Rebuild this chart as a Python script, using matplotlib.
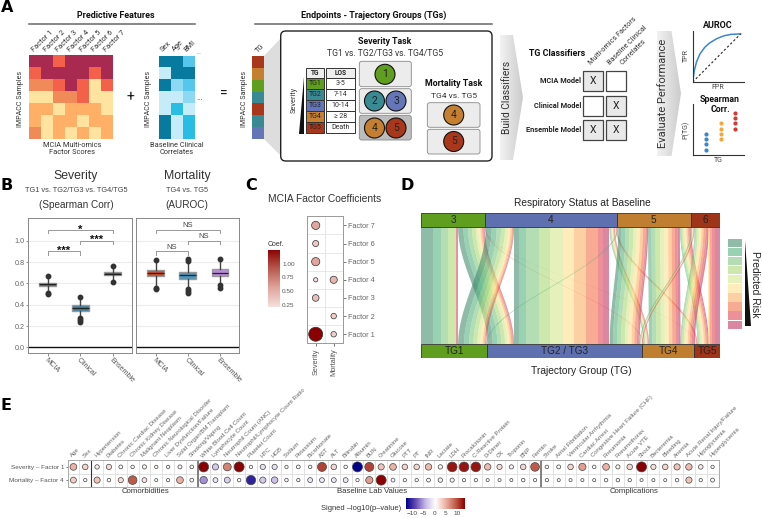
import numpy as np
import matplotlib
matplotlib.use("Agg")
import matplotlib.pyplot as plt
from matplotlib.colors import ListedColormap, LinearSegmentedColormap, to_rgba
from matplotlib.patches import Rectangle, FancyBboxPatch, Circle, Polygon

W, H = 762, 518
plt.rcParams['font.family'] = ['Liberation Sans', 'DejaVu Sans']

# ---------- panel A data
factor_labels = ["Factor 1", "Factor 2", "Factor 3", "Factor 4", "Factor 5", "Factor 6", "Factor 7"]
factor_scores = [[5, 5, 4, 5, 5, 5, 5],
                 [4, 5, 5, 5, 5, 4, 5],
                 [3, 3, 4, 5, 4, 1, 4],
                 [1, 1, 3, 3, 4, 1, 1],
                 [2, 2, 1, 2, 2, 2, 1],
                 [2, 1, 2, 2, 1, 2, 2],
                 [3, 1, 2, 1, 2, 1, 2]]
factor_colors = ["#ffe39e", "#ffb066", "#f08a58", "#f4614a", "#a82a50"]
clinical_labels = ["Sex", "Age", "BMI"]
clinical_scores = [[5, 5, 3],
                   [1, 5, 5],
                   [5, 2, 3],
                   [1, 1, 2],
                   [1, 4, 1],
                   [5, 1, 4],
                   [5, 1, 4]]
clinical_colors = ["#c6ecfa", "#8dd9f3", "#56c6ec", "#29bde4", "#08799f"]
tg_red, tg_orange, tg_green, tg_teal, tg_blue = "#a8371b", "#c48030", "#5f9e1f", "#3a8a93", "#6476b8"
tg_strip = [tg_red, tg_orange, tg_green, tg_teal, tg_red, tg_teal, tg_blue]
tg_names = ["TG1", "TG2", "TG3", "TG4", "TG5"]
tg_colors = [tg_green, tg_teal, tg_blue, tg_orange, tg_red]
los_values = ["3-5", "7-14", "10-14", "≥ 28", "Death"]
model_names = ["MCIA Model", "Clinical Model", "Ensemble Model"]
model_inputs = [[1, 0], [0, 1], [1, 1]]
roc_fpr = [0, 0.03, 0.08, 0.15, 0.25, 0.35, 0.5, 0.65, 0.8, 1.0]
roc_tpr = [0, 0.22, 0.42, 0.58, 0.72, 0.81, 0.90, 0.96, 0.99, 1.0]
rank_blue = [0.10, 0.23, 0.33, 0.43]
rank_orange = [0.33, 0.43, 0.54, 0.65]
rank_red = [0.54, 0.65, 0.76, 0.87]

# ---------- panel B data: q1, median, q3, whisker low, whisker high, outliers
model_labels = ["MCIA", "Clinical", "Ensemble"]
severity_stats = [(0.575, 0.59, 0.605, 0.52, 0.65, [0.50, 0.51, 0.665]),
                  (0.345, 0.37, 0.395, 0.30, 0.44, [0.235, 0.26, 0.275, 0.47]),
                  (0.675, 0.69, 0.705, 0.63, 0.75, [0.615, 0.76])]
mortality_stats = [(0.665, 0.695, 0.725, 0.58, 0.80, [0.55, 0.56, 0.815]),
                   (0.645, 0.675, 0.705, 0.56, 0.79, [0.51, 0.53, 0.55, 0.81, 0.83]),
                   (0.67, 0.70, 0.73, 0.59, 0.81, [0.56, 0.58, 0.825])]
severity_box_colors = ["#a0472a", "#3f7f9f", "#5a4870"]
mortality_box_colors = ["#c8502a", "#4a96b8", "#b88ad8"]
severity_sig = [(1, 2, 0.90, "***"), (2, 3, 1.00, "***"), (1, 3, 1.10, "*")]
mortality_sig = [(1, 2, 0.90, "NS"), (2, 3, 1.00, "NS"), (1, 3, 1.10, "NS")]

# ---------- panel C data
coef_severity = [1.25, np.nan, 0.40, 0.20, 0.55, 0.35, 0.55]
coef_mortality = [0.30, 0.30, np.nan, 0.45, np.nan, np.nan, np.nan]

# ---------- panel D data: risk bins per flow, low to high
resp_levels = ["3", "4", "5", "6"]
tg_levels = ["TG1", "TG2 / TG3", "TG4", "TG5"]
flows = {("3", "TG1"): [34, 25, 22, 23, 0, 0, 0, 0, 5, 0],
         ("3", "TG2 / TG3"): [16, 14, 12, 11, 8, 6, 5, 4, 2, 2],
         ("3", "TG4"): [0, 0, 0, 0, 0, 0, 0, 1, 1, 0],
         ("3", "TG5"): [0, 0, 0, 0, 0, 0, 0, 0, 1, 0],
         ("4", "TG1"): [18, 15, 13, 12, 9, 7, 5, 3, 2, 1],
         ("4", "TG2 / TG3"): [15, 23, 37, 35, 38, 34, 35, 38, 15, 17],
         ("4", "TG4"): [1, 1, 2, 2, 2, 2, 2, 2, 1, 1],
         ("4", "TG5"): [0, 0, 0, 0, 1, 1, 1, 2, 1, 1],
         ("5", "TG1"): [1, 1, 1, 0, 0, 0, 0, 0, 0, 0],
         ("5", "TG2 / TG3"): [10, 12, 12, 12, 10, 10, 8, 8, 4, 4],
         ("5", "TG4"): [2, 8, 12, 14, 12, 12, 10, 10, 8, 7],
         ("5", "TG5"): [0, 2, 3, 4, 5, 5, 5, 4, 3, 3],
         ("6", "TG2 / TG3"): [1, 1, 1, 1, 1, 1, 1, 1, 1, 1],
         ("6", "TG4"): [0, 2, 3, 5, 5, 6, 6, 6, 5, 5],
         ("6", "TG5"): [0, 0, 0, 0, 0, 2, 3, 5, 10, 15]}
risk_colors = ["#3e8a6a", "#4fb07c", "#7fc67f", "#a8d870", "#d4e68a",
               "#fee08b", "#fdae61", "#f46d43", "#e04050", "#c03060"]
resp_colors = ["#5f9e1f", "#5f70b0", "#c07f30", "#9e3518"]

# ---------- panel E data
comorbid = ["Age", "Sex", "Hypertension", "Diabetes", "Chronic Cardiac Disease", "Chronic Kidney Disease",
            "Malignant Neoplasm", "Chronic Neurological Disorder", "Liver Dysfunction/Failure",
            "Solid Organ/BM Transplant", "Smoking/Vaping"]
labs = ["White Blood Cell Count", "Lymphocyte Count", "Neutrophil Count (ANC)",
        "Neutrophil/Lymphocyte Count Ratio", "Platelet Count", "HTC", "HGB", "Sodium", "Potassium",
        "Bicarbonate", "AST", "ALT", "Bilirubin", "Albumin", "BUN", "Creatinine", "Glucose", "PTT", "PT",
        "INR", "Lactate", "LDH", "Procalcitonin", "C-Reactive Protein", "D-Dimer", "CK", "Troponin", "BNP",
        "Ferritin"]
complications = ["Stroke", "Atrial Fibrillation", "Ventricular Arrhythmia", "Cardiac Arrest",
                 "Congestive Heart Failure (CHF)", "Pneumonia", "Pneumothorax", "Acute VTE", "Shock",
                 "Bacteremia", "Bleeding", "Anemia", "Acute Renal Injury/Failure", "Hypoglycemia",
                 "Hyperglycemia"]
sev_signed = [4.5, 2.5, 1, 2, 0.5, 0.3, 0.8, 0.2, 0.2, 0.6, 0.4,
              13, -3.5, 7, 13, -0.2, -2, -2, -0.2, 0.5, 0.3, 10, 2.5, 0.3, -13, 10, 3.5, 4.5, 2.5, 2.5, 4, 1,
              12, 12, 12, 4, 2, 0.8, 2.5, 9,
              0.3, 0.6, 2.5, 5.5, 0.3, 4.5, 0.8, 2.5, 13, 2, 2.5, 3.5, 4, 1.2, 0.2]
mort_signed = [3, -0.2, 3.5, 0.3, 2, 9, 1.5, 0.1, 0.2, 4.5, 0.5,
               -6, -1.5, -3, -0.3, -11, -3.5, -4, -0.3, -0.2, -1.5, -1.5, -1.5, -1.5, -0.2, 5.5, 13, -0.5, -0.2,
               -0.2, -0.5, -1, -0.8, -0.2, -0.2, -0.1, -0.1, -0.1, -0.3, -0.2,
               -0.2, -0.1, -0.1, -0.1, -0.1, -0.3, -0.3, -0.2, -0.1, -0.1, -0.1, -0.3, 3.5, -0.2, -0.6]
e_rows = ["Severity – Factor 1", "Mortality – Factor 4"]

fig = plt.figure(figsize=(W / 100, H / 100), dpi=100)


def box(x0, y0, x1, y1):
    # axes from pixel corners, y counted from the top
    return fig.add_axes([x0 / W, 1 - y1 / H, (x1 - x0) / W, (y1 - y0) / H])


def pt(px):
    return px * 0.72


bg = fig.add_axes([0, 0, 1, 1], zorder=-1)
bg.set_xlim(0, W)
bg.set_ylim(H, 0)
bg.axis("off")
top = fig.add_axes([0, 0, 1, 1], zorder=5)
top.set_xlim(0, W)
top.set_ylim(H, 0)
top.axis("off")
top.patch.set_alpha(0)


def txt(x, y, s, size=5.5, weight="normal", color="#222222", rot=0, ha="center", va="center", font="Roboto", **kw):
    return top.text(x, y, s, fontsize=size, fontweight=weight, color=color, rotation=rot, ha=ha, va=va,
                    family=[font, "DejaVu Sans"], **kw)


def heat(rect, values, colors, labels):
    ax = box(*rect)
    ax.imshow(values, cmap=ListedColormap(colors), vmin=1, vmax=5, aspect="auto", interpolation="nearest")
    ax.xaxis.tick_top()
    ax.set_xticks(range(len(labels)), labels, rotation=45, ha="left", va="bottom", rotation_mode="anchor",
                  fontsize=5.3, color="#333333", family=["Roboto"])
    ax.set_yticks([])
    ax.tick_params(length=0, pad=1.5)
    for s in ax.spines.values():
        s.set_visible(False)
    return ax


def rbox(x0, y0, x1, y1, fc, ec="#888888", lw=0.6, r=2.5, zorder=2, ax=None):
    (ax or bg).add_patch(FancyBboxPatch((x0 + r, y0 + r), x1 - x0 - 2 * r, y1 - y0 - 2 * r,
                                        boxstyle="round,pad=%f,rounding_size=%f" % (r, r),
                                        fc=fc, ec=ec, lw=lw, zorder=zorder))


def disc(x, y, r, fc, label):
    bg.add_patch(Circle((x, y), r, fc=fc, ec="#111111", lw=0.8, zorder=4))
    txt(x, y, label, size=7.5)


def chevron(x0, xs, xt, y0, y1, label, xtext, size):
    ym = (y0 + y1) / 2
    poly = Polygon([(x0, y0), (xs, y0), (xt, ym), (xs, y1), (x0, y1)], closed=True, fc="none", ec="none")
    bg.add_patch(poly)
    g = bg.imshow(np.linspace(0, 1, 64).reshape(1, -1), cmap=LinearSegmentedColormap.from_list("g", ["#f2f2f2", "#cccccc"]),
                  extent=(x0, xt, y1, y0), aspect="auto", zorder=1)
    g.set_clip_path(poly)
    bg.set_xlim(0, W)
    bg.set_ylim(H, 0)
    txt(xtext, ym, label, size=size, rot=90, color="#333333")


# ---------- panel A
txt(1, 8, "A", size=11.5, weight="bold", ha="left", color="black", font="DejaVu Sans")
txt(116, 15, "Predictive Features", size=6.4, weight="bold", color="#111111")
bg.plot([29, 195], [24, 24], color="#666666", lw=1.1)
heat((29.3, 55, 113, 139), factor_scores, factor_colors, factor_labels)
heat((158.5, 55.5, 194, 139), clinical_scores, clinical_colors, clinical_labels)
txt(199, 52.5, "...", size=4.5, color="#555555")
for xp in [20, 149, 245]:
    txt(xp, 99, "IMPACC Samples", size=5.1, rot=90, color="#333333")
txt(130, 97, "+", size=10, color="#111111")
txt(200, 98, "...", size=6, color="#444444")
txt(224, 94, "=", size=10, color="#111111")
txt(72, 149, "MCIA Multi-omics\nFactor Scores", size=5.3, color="#333333", linespacing=1.15)
txt(177, 149, "Baseline Clinical\nCorrelates", size=5.3, color="#333333", linespacing=1.15)
txt(374, 15, "Endpoints - Trajectory Groups (TGs)", size=6.45, weight="bold", color="#111111")
bg.plot([255, 492], [24, 24], color="#666666", lw=1.1)

strip_ax = box(252, 56, 264, 139)
strip_ax.imshow(np.arange(len(tg_strip)).reshape(-1, 1), cmap=ListedColormap(tg_strip), aspect="auto",
                interpolation="nearest")
strip_ax.axis("off")
txt(260, 49, "TG", size=5.3, rot=45, color="#333333")
bg.add_patch(Polygon([(264, 56), (281, 38), (281, 156), (264, 139)], fc="#dddddd", ec="none", zorder=1))
rbox(280.7, 31, 492, 161, "white", ec="#222222", lw=1.0, r=5)
txt(385, 42, "Severity Task", size=6.3, weight="bold", color="#111111")
txt(385, 54, "TG1 vs. TG2/TG3 vs. TG4/TG5", size=6.2, color="#333333")

# table of the five groups
row_h = 11
bg.add_patch(Rectangle((305.7, 67.5), 18.3, 10.5, fc="#eeeeee", ec="#333333", lw=0.7, zorder=3))
bg.add_patch(Rectangle((326.3, 67.5), 28.4, 10.5, fc="#eeeeee", ec="#333333", lw=0.7, zorder=3))
txt(314.8, 72.8, "TG", size=4.8, weight="bold")
txt(340.5, 72.8, "LOS", size=4.8, weight="bold")
for i, (n, c, los) in enumerate(zip(tg_names, tg_colors, los_values)):
    y = 78 + i * row_h
    bg.add_patch(Rectangle((305.7, y), 18.3, row_h, fc=c, ec="#333333", lw=0.7, zorder=3))
    bg.add_patch(Rectangle((326.3, y), 28.4, row_h, fc="white", ec="#333333", lw=0.7, zorder=3))
    txt(314.8, y + row_h / 2, n, size=5)
    txt(340.5, y + row_h / 2, los, size=5, color="#333333")
txt(294, 100, "Severity", size=5.3, rot=90, color="#333333")
bg.add_patch(Polygon([(299, 133.6), (304, 133.6), (304, 77)], fc="#111111", ec="none", zorder=3))

rbox(359.3, 61.3, 411.3, 86.7, "#ececec")
rbox(359.3, 88.7, 411.3, 113.3, "#ececec")
rbox(359.3, 115.3, 411.3, 140, "#bdbdbd")
disc(385, 74.3, 10, tg_green, "1")
disc(374.5, 101, 10, tg_teal, "2")
disc(396, 101, 10, tg_blue, "3")
disc(374.5, 128, 10, tg_orange, "4")
disc(396, 128, 10, tg_red, "5")
bg.add_patch(Polygon([(411, 116), (427.5, 103), (427.5, 154), (411, 140)], fc="#cfcfcf", ec="none", zorder=1))
txt(454, 84, "Mortality Task", size=6.4, weight="bold", color="#111111")
txt(454, 96, "TG4 vs. TG5", size=6.1, color="#333333")
rbox(427.3, 102.7, 480, 127.3, "#ececec")
rbox(427.3, 129.3, 480, 154, "#ececec")
disc(453.7, 115, 10, tg_orange, "4")
disc(453.7, 141.5, 10, tg_red, "5")

chevron(500, 513, 523, 35, 160, "Build Classifiers", 507, 7.4)
chevron(657, 671.5, 681, 31, 156, "Evaluate Performance", 662.5, 8)

# classifier grid
txt(557, 53, "TG Classifiers", size=6.4, weight="bold", color="#111111")
col_x = [583, 605.7]
row_y = [71, 95.7, 120.3]
for name, ry, inputs in zip(model_names, row_y, model_inputs):
    txt(581.5, ry + 10, name, size=5.3, weight="bold", ha="right", color="#222222")
    for cx, used in zip(col_x, inputs):
        bg.add_patch(Rectangle((cx, ry), 20, 20, fc="#e9e9e9" if used else "white", ec="#444444", lw=0.9, zorder=3))
        if used:
            txt(cx + 10, ry + 10, "X", size=7.5, color="#222222")
txt(592, 66, "Multi-omics Factors", size=5.2, rot=45, ha="left", va="bottom", color="#333333", rotation_mode="anchor")
txt(611, 66, "Baseline Clinical", size=5.2, rot=45, ha="left", va="bottom", color="#333333", rotation_mode="anchor")
txt(624, 66, "Correlates", size=5.2, rot=45, ha="left", va="bottom", color="#333333", rotation_mode="anchor")

roc_ax = box(692.7, 31, 744, 82)
roc_ax.plot(roc_fpr, roc_tpr, color="#3b87c9", lw=1.1)
roc_ax.plot([0, 1], [0, 1], color="#222222", lw=0.8, ls=(0, (2, 2)))
rank_ax = box(692.7, 104, 744, 155)
rank_ax.scatter([1] * 4, rank_blue, s=9, color="#3b87c9", lw=0)
rank_ax.scatter([2] * 4, rank_orange, s=9, color="#f2a93b", lw=0)
rank_ax.scatter([3] * 4, rank_red, s=9, color="#cf3a34", lw=0)
rank_ax.set_xlim(0.08, 3.62)
rank_ax.set_ylim(0, 1.05)
roc_ax.set_xlim(0, 1.07)
roc_ax.set_ylim(0, 1.06)
for a in [roc_ax, rank_ax]:
    a.set_xticks([])
    a.set_yticks([])
    a.spines["top"].set_visible(False)
    a.spines["right"].set_visible(False)
    a.spines["left"].set_color("#333333")
    a.spines["bottom"].set_color("#333333")
    a.patch.set_alpha(0)
txt(718, 26, "AUROC", size=6.5, weight="bold", color="#111111")
txt(686, 56, "TPR", size=5, rot=90, color="#444444")
txt(718, 87.5, "FPR", size=5, color="#444444")
txt(720, 104.5, "Spearman\nCorr.", size=6.3, weight="bold", color="#111111", linespacing=1.1)
txt(686, 130, "P(TG)", size=5, rot=90, color="#444444")
txt(718, 160, "TG", size=5, color="#444444")


# ---------- panel B
def boxes(rect, stats, colors, sig, yticks):
    ax = box(*rect)
    ax.axhline(0, color="#111111", lw=1, zorder=1.5)
    for v in np.arange(0.2, 1.01, 0.2):
        ax.axhline(v, color="#ececec", lw=0.8, zorder=0)
    bxp = [dict(q1=q1, med=med, q3=q3, whislo=lo, whishi=hi, fliers=out) for q1, med, q3, lo, hi, out in stats]
    art = ax.bxp(bxp, positions=[1, 2, 3], widths=0.52, patch_artist=True, showcaps=False,
                 medianprops=dict(color="#222222", lw=0.9), whiskerprops=dict(color="#444444", lw=1.0),
                 boxprops=dict(edgecolor="#9a9a9a", lw=1.0),
                 flierprops=dict(marker="o", ms=3.2, mfc="#333333", mec="#333333"))
    for patch, c in zip(art["boxes"], colors):
        patch.set_facecolor(c)
    for a, b, y, s in sig:
        ax.plot([a, a, b, b], [y - 0.03, y, y, y - 0.03], color="#999999", lw=0.7)
        if "*" in s:
            ax.text((a + b) / 2, y + 0.005, s, ha="center", va="center", fontsize=8, fontweight="bold",
                    color="#111111", family=["Liberation Sans"])
        else:
            ax.text((a + b) / 2, y + 0.04, s, ha="center", va="center", fontsize=5.5, color="#444444")
    ax.set_xlim(0.4, 3.6)
    ax.set_ylim(-0.053, 1.21)
    ax.set_xticks([1, 2, 3], model_labels, rotation=-45, ha="left", va="top", rotation_mode="anchor",
                  fontsize=5.2, color="#555555")
    if yticks:
        ax.set_yticks([0, 0.2, 0.4, 0.6, 0.8, 1.0], ["0.0", "0.2", "0.4", "0.6", "0.8", "1.0"], fontsize=5.2,
                      color="#666666")
    else:
        ax.set_yticks([])
    ax.tick_params(length=1.8, width=0.5, color="#666666", pad=1)
    for s in ax.spines.values():
        s.set_color("#888888")
        s.set_linewidth(0.7)
    return ax


txt(1, 186, "B", size=11.5, weight="bold", ha="left", color="black", font="DejaVu Sans")
boxes((28.3, 218.3, 132.3, 353), severity_stats, severity_box_colors, severity_sig, True)
boxes((136.3, 218.3, 239.3, 353), mortality_stats, mortality_box_colors, mortality_sig, False)
for xc, a, b, c in [(76, "Severity", "TG1 vs. TG2/TG3 vs. TG4/TG5", "(Spearman Corr)"),
                    (187, "Mortality", "TG4 vs. TG5", "(AUROC)")]:
    txt(xc, 176, a, size=8.8, color="#333333", font="Liberation Sans")
    txt(xc, 191, b, size=5.3, color="#444444", font="Liberation Sans")
    txt(xc, 205, c, size=7.2, color="#333333", font="Liberation Sans")

# ---------- panel C
txt(245, 186, "C", size=11.5, weight="bold", ha="left", color="black", font="DejaVu Sans")
txt(325, 199, "MCIA Factor Coefficients", size=7.4, color="#333333", font="Liberation Sans")
coef_cmap = LinearSegmentedColormap.from_list("coef", ["#f6e0dd", "#e0a59c", "#b85a4e", "#8b0000"])
c_ax = box(306.7, 216.3, 342.7, 343.3)
rows = np.arange(1, 8)
for col, vals in enumerate([coef_severity, coef_mortality]):
    vals = np.array(vals)
    keep = ~np.isnan(vals)
    diam = 14 * (vals[keep] / 1.25) ** 0.65
    c_ax.scatter(np.full(keep.sum(), col), rows[keep], s=pt(diam) ** 2, c=vals[keep], cmap=coef_cmap, vmin=0.2,
                 vmax=1.25, edgecolors="#333333", linewidths=0.5, zorder=3)
c_ax.set_xlim(-0.5, 1.5)
c_ax.set_ylim(0.5, 7.5)
c_ax.set_xticks([0, 1], ["Severity", "Mortality"], rotation=90, fontsize=5.3, color="#555555")
c_ax.yaxis.tick_right()
c_ax.set_yticks(rows, factor_labels, fontsize=5.3, color="#666666")
c_ax.set_axisbelow(True)
c_ax.tick_params(length=2, width=0.5, color="#444444", pad=1.5)
c_ax.set_xticks([0.5], minor=True)
c_ax.set_yticks(rows[:-1] + 0.5, minor=True)
c_ax.grid(which="minor", color="#e4e4e4", lw=0.6)
c_ax.tick_params(which="minor", length=0)
for s in c_ax.spines.values():
    s.set_color("#999999")
    s.set_linewidth(0.7)
c_bar = box(268, 250, 279.3, 307)
c_bar.imshow(np.linspace(1.25, 0.208, 64).reshape(-1, 1), cmap=coef_cmap, vmin=0.2, vmax=1.25, aspect="auto",
             extent=(0, 1, 0.208, 1.25))
c_bar.set_xticks([])
c_bar.yaxis.tick_right()
c_bar.set_yticks([0.25, 0.5, 0.75, 1.0], ["0.25", "0.50", "0.75", "1.00"], fontsize=4.6, color="#555555")
c_bar.tick_params(length=0, pad=2)
for s in c_bar.spines.values():
    s.set_visible(False)
txt(268, 244, "Coef.", size=5, ha="left", color="#333333", font="Liberation Sans")

# ---------- panel D
txt(400, 186, "D", size=11.5, weight="bold", ha="left", color="black", font="DejaVu Sans")
txt(582, 203, "Respiratory Status at Baseline", size=7.3, color="#222222", font="Liberation Sans")
txt(581, 371, "Trajectory Group (TG)", size=7.4, color="#222222", font="Liberation Sans")
d_ax = box(421.3, 213.3, 720, 358)
d_ax.set_ylim(144.7, 0)
d_ax.axis("off")
bar_h = 14
total = sum(sum(v) for v in flows.values())
d_ax.set_xlim(0, total)
# stacking offsets: top bar by target order, bottom bar by source order
top_off, bot_off = {}, {}
pos = 0
top_edges = {}
for r in resp_levels:
    start = pos
    for t in tg_levels:
        if (r, t) in flows:
            top_off[(r, t)] = pos
            pos += sum(flows[(r, t)])
    top_edges[r] = (start, pos)
pos = 0
bot_edges = {}
for t in tg_levels:
    start = pos
    for r in resp_levels:
        if (r, t) in flows:
            bot_off[(r, t)] = pos
            pos += sum(flows[(r, t)])
    bot_edges[t] = (start, pos)
y_t = np.linspace(bar_h, 144.7 - bar_h, 80)
ease = np.linspace(0, 1, 80)
ease = ease * ease * (3 - 2 * ease)
for key, widths in flows.items():
    offs = np.concatenate([[0], np.cumsum(widths)])
    for k, c in enumerate(risk_colors):
        if widths[k] == 0:
            continue
        left = top_off[key] + offs[k] + (bot_off[key] - top_off[key]) * ease
        d_ax.fill_betweenx(y_t, left, left + widths[k], color=c, alpha=0.58, lw=0)
for (name, (a, b)), c in zip(top_edges.items(), resp_colors):
    d_ax.add_patch(Rectangle((a, 0), b - a, bar_h, fc=c, ec="#333333", lw=0.6))
    d_ax.text((a + b) / 2, bar_h / 2, name, ha="center", va="center", fontsize=7.2, color="#222222")
for (name, (a, b)), c in zip(bot_edges.items(), resp_colors):
    d_ax.add_patch(Rectangle((a, 144.7 - bar_h), b - a, bar_h, fc=c, ec="#333333", lw=0.6))
    d_ax.text((a + b) / 2, 144.7 - bar_h / 2, name, ha="center", va="center", fontsize=7.2, color="#222222")
leg_ax = box(727.7, 238.3, 741.7, 329.3)
leg_ax.barh(np.arange(len(risk_colors)), 1, height=0.92, color=[to_rgba(c, 0.58) for c in risk_colors])
leg_ax.set_xlim(0, 1)
leg_ax.set_ylim(len(risk_colors) - 0.5, -0.5)
leg_ax.axis("off")
bg.add_patch(Polygon([(745, 240), (745, 325.6), (751, 325.6)], fc="#111111", ec="none"))
txt(755, 284, "Predicted Risk", size=7.4, rot=-90, color="#222222", font="Liberation Sans")

# ---------- panel E
txt(1, 406, "E", size=11.5, weight="bold", ha="left", color="black", font="DejaVu Sans")
signed_cmap = LinearSegmentedColormap.from_list("signed", ["#00008b", "#6a4fb5", "#c9bbe8", "#ffffff", "#eeb5a8",
                                                           "#c4614e", "#8b0000"])
e_labels = comorbid + labs + complications
n_cols = len(e_labels)
e_ax = box(67.5, 460.3, 718.5, 486.7)
cols = np.arange(n_cols)
for row, vals in enumerate([sev_signed, mort_signed]):
    vals = np.array(vals)
    diam = 2.6 + 7.4 * (np.abs(vals) / 13) ** 0.55
    e_ax.scatter(cols, np.full(n_cols, row), s=pt(diam) ** 2, c=vals, cmap=signed_cmap, vmin=-13, vmax=13,
                 edgecolors="#444444", linewidths=0.5, zorder=3)
e_ax.set_xlim(-0.5, n_cols - 0.5)
e_ax.set_ylim(1.5, -0.5)
e_ax.xaxis.tick_top()
e_ax.set_xticks(cols, e_labels, rotation=45, ha="left", va="bottom", rotation_mode="anchor", fontsize=4.3,
                color="#666666")
e_ax.set_yticks([0, 1], e_rows, fontsize=4.6, color="#555555")
e_ax.tick_params(axis="x", length=0, pad=1.5)
e_ax.tick_params(axis="y", length=1.5, width=0.5, color="#444444", pad=1)
e_ax.set_axisbelow(True)
e_ax.set_xticks(cols[:-1] + 0.5, minor=True)
e_ax.set_yticks([0.5], minor=True)
e_ax.grid(which="minor", color="#dddddd", lw=0.6)
e_ax.tick_params(which="minor", length=0)
e_ax.axvline(len(comorbid[:2]) - 0.5, color="#333333", lw=0.8, zorder=2)
e_ax.axvline(len(comorbid) - 0.5, color="#777777", lw=1.3, zorder=2)
e_ax.axvline(len(comorbid) + len(labs) - 0.5, color="#777777", lw=1.3, zorder=2)
for s in e_ax.spines.values():
    s.set_color("#aaaaaa")
    s.set_linewidth(0.7)
txt(145, 491.7, "Comorbidities", size=5.6, color="#333333", font="Liberation Sans")
txt(371.7, 491.7, "Baseline Lab Values", size=5.6, color="#333333", font="Liberation Sans")
txt(634, 491.7, "Complications", size=5.6, color="#333333", font="Liberation Sans")
txt(401, 508.5, "Signed –log10(p–value)", size=5.4, ha="right", color="#333333", font="Liberation Sans")
e_bar = box(405.7, 497.7, 464, 509)
e_bar.imshow(np.linspace(-13, 13, 128).reshape(1, -1), cmap=signed_cmap, vmin=-13, vmax=13, aspect="auto",
             extent=(-12.8, 13.1, 0, 1))
e_bar.set_yticks([])
e_bar.set_xticks([-10, -5, 0, 5, 10], ["−10", "−5", "0", "5", "10"], fontsize=4.6, color="#444444")
e_bar.tick_params(length=0, pad=1.5)
for s in e_bar.spines.values():
    s.set_visible(False)

fig.savefig("out.png", dpi=100)
